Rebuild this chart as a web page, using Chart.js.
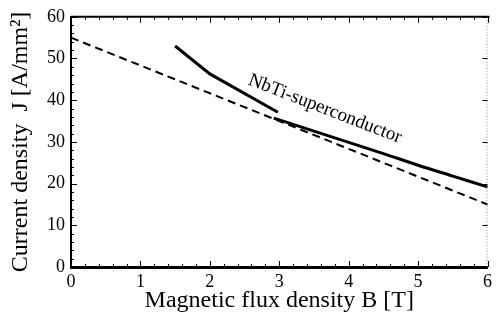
<!DOCTYPE html>
<html lang="en">
<head>
  <meta charset="UTF-8">
  <title>NbTi critical current density</title>
  <script src="https://cdn.jsdelivr.net/npm/chart.js"></script>
  <style>
    * { box-sizing: border-box; margin: 0; padding: 0; }
    body { background: #fff; }
    #wrap { width: 496px; height: 321px; }
  </style>
</head>
<body>
  <div id="wrap"><canvas id="jcChart" width="496" height="321"></canvas></div>

  <script>
    // values (B in T, J in A/mm2)
    const lowFieldB = [1.5, 2.0, 2.98];
    const lowFieldJ = [53, 46.3, 37.1];
    const highFieldB = [2.92, 3.5, 4.0, 4.5, 5.0, 5.5, 6.0];
    const highFieldJ = [35.7, 32.6, 29.9, 27.2, 24.4, 21.8, 19.2];
    const lineB = [0, 6];
    const lineJ = [55, 15];

    const xTicks = [0, 1, 2, 3, 4, 5, 6];
    const yTicks = [0, 10, 20, 30, 40, 50, 60];
    const curveLabel = 'NbTi-superconductor';

    const serif = '"Liberation Serif", "Times New Roman", serif';

    function toPoints(xs, ys) {
      return xs.map((x, i) => ({ x, y: ys[i] }));
    }

    // inward tick marks + top/right frame, placed through the scales
    const frame = {
      id: 'frame',
      afterDraw(chart) {
        const { ctx, chartArea: a, scales: { x, y } } = chart;
        ctx.save();
        ctx.strokeStyle = '#000';

        // top spine
        ctx.lineWidth = 2;
        ctx.beginPath();
        ctx.moveTo(a.left, a.top);
        ctx.lineTo(a.right + 2, a.top);
        ctx.stroke();

        // right spine, faint dotted
        ctx.strokeStyle = '#888';
        ctx.lineWidth = 1;
        ctx.setLineDash([1, 2]);
        ctx.beginPath();
        ctx.moveTo(a.right - 0.5, a.top);
        ctx.lineTo(a.right - 0.5, a.bottom);
        ctx.stroke();
        ctx.setLineDash([]);

        ctx.strokeStyle = '#000';
        ctx.lineWidth = 1;
        // x ticks every 0.2, majors longer
        for (let i = 0; i <= 30; i++) {
          const px = Math.round(x.getPixelForValue(i * 0.2)) + 0.5;
          const len = i % 5 === 0 ? 6 : 3;
          ctx.beginPath();
          ctx.moveTo(px, a.bottom);
          ctx.lineTo(px, a.bottom - len);
          ctx.moveTo(px, a.top);
          ctx.lineTo(px, a.top + len);
          ctx.stroke();
        }
        // y ticks every 2
        for (let i = 0; i <= 30; i++) {
          const py = Math.round(y.getPixelForValue(i * 2)) + 0.5;
          const len = i % 5 === 0 ? 6 : 3;
          ctx.beginPath();
          ctx.moveTo(a.left, py);
          ctx.lineTo(a.left + len, py);
          if (i % 5 === 0) {
            ctx.moveTo(a.right, py);
            ctx.lineTo(a.right - 5, py);
          }
          ctx.stroke();
        }

        // curve label, rotated along the line
        const lx = x.getPixelForValue(3.66);
        const ly = y.getPixelForValue(37.9);
        ctx.translate(lx, ly);
        ctx.rotate(0.37);
        ctx.fillStyle = '#000';
        ctx.font = '19px ' + serif;
        ctx.textAlign = 'center';
        ctx.textBaseline = 'middle';
        ctx.fillText(curveLabel, 0, 0);
        ctx.restore();
      }
    };

    const ctx = document.getElementById('jcChart').getContext('2d');
    new Chart(ctx, {
      type: 'scatter',
      data: {
        datasets: [
          {
            data: toPoints(lowFieldB, lowFieldJ),
            showLine: true,
            borderColor: '#000',
            borderWidth: 3,
            pointRadius: 0,
            tension: 0
          },
          {
            data: toPoints(highFieldB, highFieldJ),
            showLine: true,
            borderColor: '#000',
            borderWidth: 3,
            pointRadius: 0,
            cubicInterpolationMode: 'monotone'
          },
          {
            data: toPoints(lineB, lineJ),
            showLine: true,
            borderColor: '#000',
            borderWidth: 2,
            borderDash: [8, 5],
            pointRadius: 0
          }
        ]
      },
      options: {
        responsive: false,
        animation: false,
        clip: false,
        layout: { autoPadding: false, padding: { top: 13, right: 1, left: 0, bottom: 0 } },
        plugins: { legend: { display: false }, tooltip: { enabled: false } },
        scales: {
          x: {
            type: 'linear',
            min: 0, max: 6,
            afterBuildTicks: s => { s.ticks = xTicks.map(v => ({ value: v })); },
            afterFit: s => { s.height = 54; },
            grid: { display: false, drawTicks: false },
            border: { display: true, color: '#000', width: 3 },
            ticks: {
              color: '#000',
              padding: 4,
              maxRotation: 0,
              font: { family: serif, size: 18 }
            },
            title: {
              display: true,
              text: 'Magnetic flux density B [T]',
              color: '#000',
              padding: { top: 0, bottom: 6 },
              font: { family: serif, size: 24 }
            }
          },
          y: {
            type: 'linear',
            min: 0, max: 60,
            afterBuildTicks: s => { s.ticks = yTicks.map(v => ({ value: v })); },
            afterFit: s => { s.width = 71; },
            grid: { display: false, drawTicks: false },
            border: { display: true, color: '#000', width: 2 },
            ticks: {
              color: '#000',
              padding: 6,
              font: { family: serif, size: 18 }
            },
            title: {
              display: true,
              text: 'Current density  J [A/mm\u00B2]',
              color: '#000',
              padding: { top: 6, bottom: 0 },
              font: { family: serif, size: 24 }
            }
          }
        }
      },
      plugins: [frame]
    });
  </script>
</body>
</html>
